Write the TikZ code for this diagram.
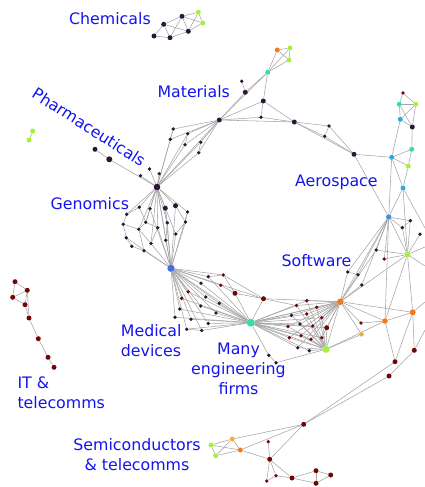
\documentclass[tikz,border=0pt]{standalone}
\usepackage{fontspec}
\setmainfont{DejaVu Sans}
\usetikzlibrary{backgrounds}
\definecolor{cdk}{RGB}{45,22,55}
\definecolor{crd}{RGB}{115,5,8}
\definecolor{ctl}{RGB}{52,222,168}
\definecolor{cgr}{RGB}{168,238,62}
\definecolor{cor}{RGB}{242,120,30}
\definecolor{cyl}{RGB}{240,175,55}
\definecolor{cbl}{RGB}{70,110,225}
\definecolor{ccy}{RGB}{40,172,222}
\definecolor{csk}{RGB}{70,140,228}
\definecolor{clab}{RGB}{20,20,238}
\definecolor{cedge}{RGB}{165,165,165}
\tikzset{
  dot/.style={circle,inner sep=0pt,draw=none},
  dsm/.style={dot,minimum size=3.8pt},
  dmd/.style={dot,minimum size=5pt},
  dlg/.style={dot,minimum size=6.6pt},
  pdk/.style={fill=cdk}, prd/.style={fill=crd}, ptl/.style={fill=ctl},
  pgr/.style={fill=cgr}, por/.style={fill=cor}, pyl/.style={fill=cyl},
  pbl/.style={fill=cbl}, pcy/.style={fill=ccy}, psk/.style={fill=csk},
  edge/.style={draw=cedge,line width=0.55pt},
  lab/.style={text=clab,inner sep=0pt,font=\fontsize{15.8}{20}\selectfont},
}
\begin{document}
\begin{tikzpicture}[x=1pt,y=-1pt]
\useasboundingbox (0,0) rectangle (425,487);
% Chemicals
\node[dmd,pdk] (c1) at (154,36) {};
\node[dmd,pdk] (c2) at (163.7,24.3) {};
\node[dmd,pdk] (c3) at (170,37.7) {};
\node[dmd,pdk] (c4) at (182,16.3) {};
\node[dmd,pdk] (c5) at (188.3,31.3) {};
\node[dmd,pgr] (c6) at (198.3,12.3) {};
\node[dmd,pgr] (c7) at (202.7,23) {};
\node[dmd,pgr] (p1) at (32.7,131) {};
\node[dmd,pgr] (p2) at (29,140) {};
% Pharma
\node[dmd,pdk] (f1) at (95,149.3) {};
\node[dlg,pdk,minimum size=6pt] (f2) at (109.3,159.3) {};
\node[dsm,pdk] (f3) at (149.5,169) {};
\node[dsm,pdk] (f4) at (140.5,175.7) {};
\node[dsm,pdk] (f5) at (159.2,173.7) {};
\node[dlg,pdk] (G) at (157,187) {};
% Materials
\node[dmd,pdk] (M) at (219.3,120) {};
\node[dsm,pdk] (m1) at (173.3,129) {};
\node[dsm,pdk] (m2) at (187.7,133.7) {};
\node[dsm,pdk] (m3) at (170.3,139.3) {};
\node[dsm,pdk] (m4) at (185,144.7) {};
\node[dsm,pdk] (m5) at (200.7,142.3) {};
\node[dsm,pdk] (m6) at (198.7,152.7) {};
\node[dsm,pdk] (m7) at (241.7,81.3) {};
\node[dmd,pdk] (m8) at (245.3,92.3) {};
\node[dmd,ptl] (mt) at (267.7,72.3) {};
\node[dmd,por] (mo) at (277.3,50) {};
\node[dmd,pgr] (mg1) at (290,48) {};
\node[dmd,pgr] (mg2) at (289,60) {};
\node[dmd,pdk] (m9) at (263.3,101) {};
\node[dsm,pdk] (m10) at (261,117.3) {};
\node[dmd,pdk] (m11) at (294.3,122) {};
\node[dsm,pdk] (m12) at (329,126) {};
\node[dsm,pdk] (m13) at (324.7,136.3) {};
\node[dmd,pdk] (m14) at (354,154.3) {};
% Aerospace
\node[dsm,prd] (a1) at (403,93) {};
\node[dmd,ptl] (a2) at (399.3,104.3) {};
\node[dmd,pgr] (a3) at (415.7,104.3) {};
\node[dmd,pcy] (a4) at (400.3,119.3) {};
\node[dmd,pdk] (a5) at (412.3,127) {};
\node[dmd,ptl] (a6) at (411.7,149.3) {};
\node[dmd,pcy] (a7) at (391.7,157.3) {};
\node[dmd,pgr] (a8) at (408.3,166) {};
\node[dmd,pcy] (a9) at (403,188) {};
\node[dmd,psk,minimum size=5.4pt] (AB) at (388.7,217) {};
\node[dsm,pdk] (a10) at (410.3,220.7) {};
\node[dsm,pdk] (a11) at (402.3,227.7) {};
\node[dsm,pdk] (a12) at (420,234.3) {};
\node[dsm,pdk] (a13) at (376.3,250) {};
\node[dsm,prd] (a14) at (384.3,259) {};
\node[dlg,pgr,minimum size=6pt] (AG) at (407.5,254.5) {};
\coordinate (xr1) at (425,228);
\coordinate (xr2) at (425,247);
\coordinate (xr3) at (425,266);
\coordinate (xr4) at (425,302);
\coordinate (xr5) at (425,330);
% Genomics
\node[dsm,pdk] (g1) at (126.7,214.3) {};
\node[dsm,pdk] (g2) at (139.3,207.2) {};
\node[dsm,pdk] (g3) at (150,208.8) {};
\node[dmd,pdk] (g4) at (165.3,208.2) {};
\node[dmd,pdk] (g5) at (175.5,205.7) {};
\node[dsm,pdk] (g6) at (187.5,212) {};
\node[dsm,pdk] (g7) at (123.2,224.2) {};
\node[dsm,pdk] (g8) at (145.8,222.2) {};
\node[dsm,pdk] (g9) at (157.7,227.8) {};
\node[dsm,pdk] (g10) at (167.3,222.8) {};
\node[dsm,pdk] (g11) at (185.5,222) {};
\node[dsm,pdk] (g12) at (138.8,229.2) {};
\node[dsm,pdk] (g13) at (175.7,234) {};
\node[dsm,pdk] (g14) at (126.3,237.8) {};
\node[dsm,pdk] (g15) at (131.8,246.3) {};
\node[dsm,pdk] (g16) at (144,250.7) {};
\node[dsm,pdk] (g17) at (151,243.5) {};
\node[dsm,pdk] (g18) at (165.8,240.2) {};
\node[dot,pbl,minimum size=7.3pt] (B) at (171,268.3) {};
% Medical devices
\node[dsm,pdk] (e1) at (208.3,276.7) {};
\node[dsm,prd] (e2) at (223.3,275) {};
\node[dsm,pdk] (e3) at (201,283.3) {};
\node[dsm,prd] (e4) at (220.7,285.3) {};
\node[dmd,prd] (e5) at (235,293.3) {};
\node[dsm,prd] (e6) at (188.3,291.7) {};
\node[dsm,prd] (e7) at (181.7,298.3) {};
\node[dsm,pdk] (e8) at (205.7,297) {};
\node[dsm,pdk] (e9) at (219.3,303.3) {};
\node[dsm,pdk] (e10) at (200.7,306) {};
\node[dsm,pdk] (e11) at (179.7,309) {};
\node[dsm,pdk] (e12) at (216,313) {};
\node[dsm,pdk] (e13) at (175,317.3) {};
\node[dsm,pdk] (e14) at (191,319.2) {};
\node[dsm,pdk] (e15) at (208.3,323.5) {};
\node[dsm,pdk] (e16) at (186.7,329.2) {};
\node[dsm,pdk] (e17) at (201.7,330.5) {};
\node[dmd,prd] (e18) at (263.5,298.7) {};
\node[dot,ptl,minimum size=8pt] (T) at (250.7,322.7) {};
% Many engineering firms / software
\node[dsm,prd] (k1) at (296.5,305.5) {};
\node[dsm,prd] (k2) at (306.8,300.7) {};
\node[dsm,prd] (k3) at (316.7,307.2) {};
\node[dsm,pdk] (k4) at (291.5,315.2) {};
\node[dsm,prd] (k5) at (306.7,314) {};
\node[dsm,prd] (k6) at (321.7,317.7) {};
\node[dsm,pdk] (k7) at (300,324) {};
\node[dsm,prd] (k8) at (287.9,326.5) {};
\node[dsm,prd] (k9) at (312.7,326) {};
\node[dmd,prd] (k10) at (326.7,327.7) {};
\node[dsm,prd] (k11) at (289.3,337.7) {};
\node[dsm,prd] (k12) at (301,335.7) {};
\node[dsm,prd] (k13) at (311,339.3) {};
\node[dsm,prd] (k14) at (321.7,337.7) {};
\node[dsm,pdk] (k15) at (297.7,347.7) {};
\node[dsm,pdk] (k16) at (309.3,350.7) {};
\node[dsm,pdk] (k17) at (268.8,355.3) {};
\node[dsm,pdk] (k18) at (276,362.7) {};
\node[dot,pgr,minimum size=7.3pt] (E2) at (326,349.3) {};
\node[dlg,por] (S) at (340.3,301.7) {};
\node[dsm,pdk] (s1) at (347.7,272) {};
\node[dsm,pdk] (s2) at (358,274.7) {};
\node[dsm,pdk] (s3) at (361.7,285) {};
\node[dmd,por,minimum size=6pt] (r1) at (412.7,312.3) {};
\node[dmd,por,minimum size=5.6pt] (r2) at (385,321) {};
\node[dsm,prd] (r3) at (361,323) {};
\node[dmd,pyl,minimum size=4.6pt] (r4) at (361.5,334.3) {};
\node[dmd,prd] (r5) at (414.3,350.3) {};
\node[dmd,prd] (r6) at (395,361.7) {};
\node[dmd,prd] (r7) at (389,376) {};
% Semiconductors
\node[dmd,prd] (z1) at (303.7,424.3) {};
\node[dmd,pyl] (z2) at (232.3,439) {};
\node[dmd,pgr] (z3) at (211,445) {};
\node[dmd,pgr] (z4) at (215.7,455.7) {};
\node[dmd,por] (z5) at (240.3,450) {};
\node[dsm,prd] (z6) at (268.3,441.7) {};
\node[dmd,prd] (z7) at (269.7,459.3) {};
\node[dsm,prd] (z8) at (276,475.7) {};
\node[dsm,prd] (z9) at (266.7,481) {};
\node[dmd,prd] (z10) at (292,478) {};
\node[dmd,prd] (z11) at (316,470.7) {};
\node[dmd,prd] (z12) at (330.7,475) {};
\node[dmd,prd] (z13) at (316,483.3) {};
% IT & telecomms
\node[dmd,prd] (i1) at (15,281.7) {};
\node[dmd,prd] (i2) at (27.3,290.3) {};
\node[dmd,prd] (i3) at (12.7,297.3) {};
\node[dmd,prd] (i4) at (25,304.7) {};
\node[dmd,prd] (i5) at (29,318) {};
\node[dmd,prd] (i6) at (38.3,338.7) {};
\node[dmd,prd] (i7) at (48,357.3) {};
\node[dmd,prd] (i8) at (54,367.3) {};
% edges
\begin{pgfonlayer}{background}
\foreach \a/\b in {c1/c2,c1/c3,c2/c3,c2/c4,c2/c5,c3/c4,c3/c5,c4/c5,c4/c6,c5/c6,c5/c7,c6/c7,c4/c7,p1/p2,
  f1/f2,f2/G,f3/G,f4/G,f5/G,
  M/m1,M/m2,M/m3,M/m4,M/m5,M/m6,G/m1,G/m2,G/m3,G/m4,G/m5,G/m6,m1/m3,m2/m4,m5/m6,M/G,
  M/m8,m7/m8,m8/mt,M/mt,mt/mo,mt/mg1,mt/mg2,mo/mg1,mo/mg2,mg1/mg2,mt/m9,M/m9,m9/m10,m9/m11,M/m10,M/m11,m10/m11,
  m11/m12,m11/m13,m11/m14,m12/m14,m13/m14,m12/m13,m14/a7,m14/AB,
  a1/a2,a1/a3,a2/a3,a2/a4,a2/a5,a3/a4,a3/a5,a4/a5,a4/a7,a5/a6,a6/a7,a6/a8,a7/a8,a7/a9,a8/a9,a7/AB,a9/AB,a9/AG,a9/xr1,
  AB/a10,AB/a11,AB/AG,AB/a13,AB/a14,AB/s1,AB/s2,AB/s3,AB/S,AB/r2,
  AG/a10,AG/a11,AG/a12,AG/a13,AG/a14,AG/xr2,AG/xr3,AG/S,AG/r1,AG/r2,a10/a11,
  S/s1,S/s2,S/s3,s1/s2,S/a13,S/r1,S/r2,S/r3,S/r4,r3/r2,r2/r1,r2/r6,r1/r6,r1/r5,r5/r7,r4/E2,r2/E2,r1/xr4,r5/xr5,
  z1/r6,z1/r7,z1/z2,z1/z5,z1/z7,z2/z3,z2/z4,z2/z5,z3/z5,z3/z4,z4/z5,z5/z7,z6/z7,z7/z8,z7/z9,z7/z10,z8/z9,z8/z10,
  z10/z11,z10/z13,z11/z12,z11/z13,z12/z13,
  i1/i2,i1/i3,i2/i3,i3/i4,i2/i4,i4/i5,i2/i5,i5/i6,i6/i7,i7/i8,
  G/g1,G/g2,G/g3,G/g4,G/g5,G/g6,G/g8,G/g9,G/g10,G/g12,G/g13,G/g17,G/g18,G/B,
  g1/g2,g1/g7,g7/g14,g14/g15,g15/g16,g16/B,g7/g12,g12/g17,g17/B,g8/g12,g8/g9,g9/B,g10/B,g18/B,g4/g10,
  g5/g11,g6/g11,g11/g13,g13/B,g6/B,g11/B,g3/g8,g2/g8,g12/g16,g9/g17,g10/g18,g3/B,g4/B,g5/B,g14/B,
  B/e1,B/e2,B/e3,B/e4,B/e6,B/e7,B/e8,B/e9,B/e10,B/e11,B/e12,B/e13,B/e14,B/e15,B/e16,B/e17,B/T,B/e18,
  T/e1,T/e3,T/e6,T/e7,T/e8,T/e9,T/e10,T/e11,T/e12,T/e13,T/e14,T/e15,T/e16,T/e17,T/e5,T/e18,
  e2/e5,e4/e5,e5/e18,e2/e18,e1/e2,e16/e17,e18/S,e18/k1,
  T/k1,T/k2,T/k3,T/k4,T/k5,T/k6,T/k7,T/k8,T/k9,T/k10,T/k11,T/k12,T/k13,T/k14,T/k15,T/k16,
  S/k1,S/k2,S/k3,S/k4,S/k5,S/k6,S/k7,S/k8,S/k9,S/k10,S/k11,S/k12,S/k13,S/k14,S/k15,
  E2/k1,E2/k2,E2/k3,E2/k4,E2/k5,E2/k6,E2/k7,E2/k8,E2/k9,E2/k10,E2/k11,E2/k12,E2/k13,E2/k14,E2/k15,E2/k16,
  T/S,T/E2,S/E2,T/k17,k17/k18,k18/E2}
  \draw[edge] (\a) -- (\b);
\end{pgfonlayer}
% labels
\node[lab,anchor=base west] (lchem) at (69,25) {Chemicals};
\node[lab,anchor=base west] (lmat) at (157.3,97.3) {Materials};
\node[lab,rotate=-32.5] (lpha) at (89,127) {Pharmaceuticals};
\node[lab,anchor=base west] (lgen) at (50.5,209.3) {Genomics};
\node[lab,anchor=base west] (laer) at (295,186.7) {Aerospace};
\node[lab,anchor=base west] (lsof) at (281.5,266.7) {Software};
\node[lab,anchor=base west,align=left] (lmed) at (120.7,356.7) {Medical\\devices};
\node[lab,anchor=base,align=center] (lmany) at (238.5,394.7) {Many\\engineering\\firms};
\node[lab,anchor=base west,align=left] (lit) at (17.3,408.3) {IT \&\\telecomms};
\node[lab,anchor=base,align=center] (lsemi) at (137,470.7) {Semiconductors\\\& telecomms};
\end{tikzpicture}
\end{document}
